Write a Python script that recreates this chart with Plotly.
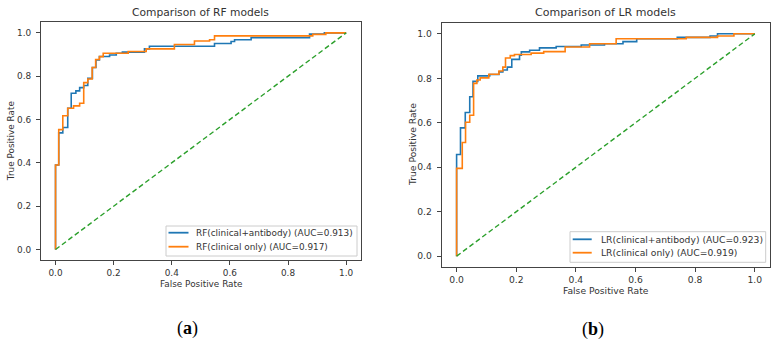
import plotly.graph_objects as go

# ---------------- data ----------------
tick_vals = [0.0, 0.2, 0.4, 0.6, 0.8, 1.0]
tick_text = ["0.0", "0.2", "0.4", "0.6", "0.8", "1.0"]
diag = [0.0, 1.0]

# RF models (left panel)
rf_ab_fpr = [0, 0, 0.011, 0.025, 0.042, 0.054, 0.070, 0.083, 0.097, 0.111, 0.127, 0.139,
             0.151, 0.186, 0.209, 0.23, 0.306, 0.323, 0.547, 0.604, 0.616, 0.673, 0.874, 0.925, 1.0]
rf_ab_tpr = [0, 0.39, 0.538, 0.563, 0.652, 0.721, 0.732, 0.747, 0.757, 0.79, 0.840, 0.875,
             0.891, 0.898, 0.906, 0.911, 0.926, 0.938, 0.951, 0.960, 0.968, 0.978, 0.994, 1.0, 1.0]
rf_cl_fpr = [0, 0, 0.011, 0.025, 0.042, 0.062, 0.083, 0.097, 0.111, 0.126, 0.138, 0.151,
             0.164, 0.25, 0.312, 0.409, 0.478, 0.53, 0.547, 0.885, 0.93, 1.0]
rf_cl_tpr = [0, 0.39, 0.553, 0.617, 0.652, 0.663, 0.675, 0.770, 0.787, 0.840, 0.877, 0.890,
             0.906, 0.914, 0.926, 0.946, 0.962, 0.968, 0.986, 0.993, 1.0, 1.0]

# LR models (right panel)
lr_ab_fpr = [0, 0, 0.013, 0.029, 0.044, 0.055, 0.071, 0.111, 0.142, 0.155, 0.170, 0.185,
             0.211, 0.217, 0.245, 0.278, 0.334, 0.418, 0.496, 0.558, 0.604, 0.74, 0.85, 0.875, 1.0]
lr_ab_tpr = [0, 0.457, 0.577, 0.646, 0.717, 0.786, 0.811, 0.817, 0.829, 0.837, 0.850, 0.885,
             0.904, 0.919, 0.926, 0.937, 0.943, 0.950, 0.955, 0.965, 0.978, 0.984, 0.990, 1.0, 1.0]
lr_cl_fpr = [0, 0, 0.013, 0.019, 0.030, 0.044, 0.057, 0.068, 0.079, 0.108, 0.142, 0.155,
             0.164, 0.180, 0.194, 0.25, 0.292, 0.364, 0.446, 0.535, 0.77, 0.875, 0.93, 1.0]
lr_cl_tpr = [0, 0.395, 0.395, 0.511, 0.602, 0.634, 0.777, 0.792, 0.802, 0.818, 0.833, 0.850,
             0.891, 0.902, 0.907, 0.913, 0.920, 0.941, 0.955, 0.978, 0.984, 0.990, 1.0, 1.0]

names_left = ["RF(clinical+antibody) (AUC=0.913)", "RF(clinical only) (AUC=0.917)"]
names_right = ["LR(clinical+antibody) (AUC=0.923)", "LR(clinical only) (AUC=0.919)"]
titles = ["Comparison of RF models", "Comparison of LR models"]
captions = ["(<b>a</b>)", "(<b>b</b>)"]
x_title = "False Positive Rate"
y_title = "True Positive Rate"

# ---------------- style ----------------
BLUE = "#1f77b4"
ORANGE = "#ff7f0e"
GREEN = "#2ca02c"
TXT = "#333333"
FONT = "DejaVu Sans"
W, H = 780, 344
FS = [8.9, 9.2]        # small text per panel
FT = [10.7, 11.0]      # title per panel

fig = go.Figure()

def add_panel(xa, ya, fa, ta, fb, tb, names):
    fig.add_trace(go.Scatter(x=fa, y=ta, mode="lines", line=dict(color=BLUE, width=1.6, shape="hv"),
                             name=names[0], xaxis=xa, yaxis=ya, showlegend=False))
    fig.add_trace(go.Scatter(x=fb, y=tb, mode="lines", line=dict(color=ORANGE, width=1.6, shape="hv"),
                             name=names[1], xaxis=xa, yaxis=ya, showlegend=False))
    fig.add_trace(go.Scatter(x=diag, y=diag, mode="lines", line=dict(color=GREEN, width=1.4, dash="5px,3px"),
                             showlegend=False, xaxis=xa, yaxis=ya))

add_panel("x", "y", rf_ab_fpr, rf_ab_tpr, rf_cl_fpr, rf_cl_tpr, names_left)
add_panel("x2", "y2", lr_ab_fpr, lr_ab_tpr, lr_cl_fpr, lr_cl_tpr, names_right)

# axes pixel boxes (left, top, right, bottom)
boxes = [(41, 22, 360.7, 260.3), (441.7, 22.7, 769.7, 267.3)]

def ax_common(fs):
    return dict(range=[-0.05, 1.05], tickvals=tick_vals, ticktext=tick_text, showgrid=False,
                zeroline=False, showline=True, mirror=True, linecolor="#444444", linewidth=1,
                ticks="outside", ticklen=4, tickcolor="#444444", tickwidth=1,
                tickfont=dict(family=FONT, size=fs, color=TXT), automargin=False)

layout = dict(width=W, height=H, margin=dict(l=0, r=0, t=0, b=0),
              paper_bgcolor="white", plot_bgcolor="white", showlegend=False,
              font=dict(family=FONT, color=TXT))
for i, (l, t, r, b) in enumerate(boxes):
    sfx = "" if i == 0 else str(i + 1)
    xa = ax_common(FS[i]); xa["domain"] = [l / W, r / W]; xa["anchor"] = "y" + sfx
    ya = ax_common(FS[i]); ya["domain"] = [1 - b / H, 1 - t / H]; ya["anchor"] = "x" + sfx
    ya["ticklabelstandoff"] = 3
    layout["xaxis" + sfx] = xa
    layout["yaxis" + sfx] = ya
fig.update_layout(**layout)

ann = []
shapes = []
# titles
for i, (l, t, r, b) in enumerate(boxes):
    cx = (l + r) / 2
    ann.append(dict(text=titles[i], x=cx / W, y=1 - 13 / H, xref="paper", yref="paper",
                    showarrow=False, font=dict(family=FONT, size=FT[i], color=TXT),
                    xanchor="center", yanchor="middle"))
# axis titles
xt_y = [283.5, 290.5]
yt_x = [11, 412]
for i, (l, t, r, b) in enumerate(boxes):
    ann.append(dict(text=x_title, x=(l + r) / 2 / W, y=1 - xt_y[i] / H, xref="paper", yref="paper",
                    showarrow=False, font=dict(family=FONT, size=FS[i], color=TXT),
                    xanchor="center", yanchor="middle"))
    ann.append(dict(text=y_title, x=yt_x[i] / W, y=1 - (t + b) / 2 / H, xref="paper", yref="paper",
                    showarrow=False, textangle=-90, font=dict(family=FONT, size=FS[i], color=TXT),
                    xanchor="center", yanchor="middle"))
# captions
cap_pos = [(187, 328), (593, 329)]
for i, (cx, cy) in enumerate(cap_pos):
    ann.append(dict(text=captions[i], x=cx / W, y=1 - cy / H, xref="paper", yref="paper",
                    showarrow=False, font=dict(family="Liberation Serif", size=18, color="#000000"),
                    xanchor="center", yanchor="middle"))

# legends (box, line sample, label) in pixel positions
legends = [
    dict(box=(166, 226, 357, 256), lx=(168.5, 188.5), rows=(232.7, 246.7), tx=194.3, names=names_left),
    dict(box=(570, 231.7, 765.7, 262.3), lx=(572.7, 591.7), rows=(239.3, 252.7), tx=599.3, names=names_right),
]
for i, lg in enumerate(legends):
    x0, y0, x1, y1 = lg["box"]
    shapes.append(dict(type="rect", xref="paper", yref="paper", x0=x0 / W, x1=x1 / W,
                       y0=1 - y1 / H, y1=1 - y0 / H, line=dict(color="#cccccc", width=1),
                       fillcolor="rgba(255,255,255,0.85)", layer="above"))
    for k, col in enumerate([BLUE, ORANGE]):
        ry = lg["rows"][k]
        shapes.append(dict(type="line", xref="paper", yref="paper", x0=lg["lx"][0] / W, x1=lg["lx"][1] / W,
                           y0=1 - ry / H, y1=1 - ry / H, line=dict(color=col, width=1.8), layer="above"))
        ann.append(dict(text=lg["names"][k], x=lg["tx"] / W, y=1 - ry / H, xref="paper", yref="paper",
                        showarrow=False, font=dict(family=FONT, size=FS[i], color=TXT),
                        xanchor="left", yanchor="middle"))

fig.update_layout(annotations=ann, shapes=shapes)

fig.write_html("out.html")
